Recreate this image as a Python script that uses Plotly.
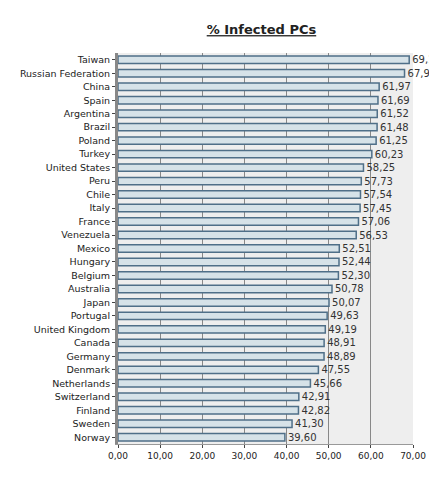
import plotly.graph_objects as go

countries = ["Taiwan", "Russian Federation", "China", "Spain", "Argentina", "Brazil",
             "Poland", "Turkey", "United States", "Peru", "Chile", "Italy", "France",
             "Venezuela", "Mexico", "Hungary", "Belgium", "Australia", "Japan", "Portugal",
             "United Kingdom", "Canada", "Germany", "Denmark", "Netherlands", "Switzerland",
             "Finland", "Sweden", "Norway"]
infected = [69.10, 67.99, 61.97, 61.69, 61.52, 61.48, 61.25, 60.23, 58.25, 57.73,
            57.54, 57.45, 57.06, 56.53, 52.51, 52.44, 52.30, 50.78, 50.07, 49.63,
            49.19, 48.91, 48.89, 47.55, 45.66, 42.91, 42.82, 41.30, 39.60]

fig = go.Figure(go.Bar(
    x=infected, y=countries, orientation="h",
    marker=dict(color="#d6e2e8", line=dict(color="#4f6f88", width=1.5)),
    width=0.55,
    text=[f"{v:.2f}".replace(".", ",") for v in infected],
    textposition="outside", cliponaxis=False, constraintext="none",
    textfont=dict(family="DejaVu Sans", size=10, color="#333"),
))

fig.update_layout(
    width=437, height=486,
    margin=dict(l=98, r=32, t=45, b=50),
    paper_bgcolor="white", plot_bgcolor="#eeeeee",
    separators=",.",
    title=dict(text="<b><u>% Infected PCs</u></b>", x=0.58, y=0.965,
               font=dict(family="DejaVu Sans", size=13, color="#222")),
    font=dict(family="DejaVu Sans", size=9, color="#222"),
    showlegend=False, bargap=0.4,
)
fig.update_xaxes(range=[0, 70], dtick=10, tickformat=".2f", showgrid=True,
                 gridcolor="#888", gridwidth=1, zeroline=False,
                 showline=True, linecolor="#999", ticks="outside", ticklen=3,
                 tickfont=dict(size=9))
fig.update_yaxes(autorange="reversed", showline=True, linecolor="#888", linewidth=3,
                 ticks="outside", ticklen=3, tickfont=dict(size=9.5))

fig.write_html("out.html")
